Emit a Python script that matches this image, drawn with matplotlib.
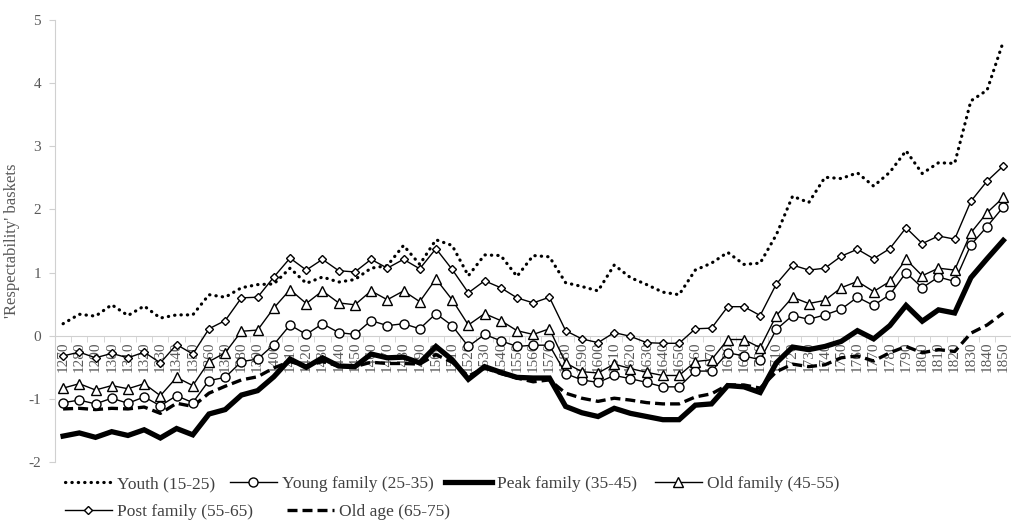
import numpy as np
import matplotlib
matplotlib.use("Agg")
import matplotlib.pyplot as plt

# decades 1270..1850
years = list(range(1270, 1851, 10))

youth = [0.19, 0.34, 0.31, 0.49, 0.32, 0.47, 0.28, 0.33, 0.33, 0.65,
         0.61, 0.76, 0.81, 0.82, 1.07, 0.83, 0.93, 0.85, 0.89, 1.07,
         1.11, 1.43, 1.13, 1.52, 1.43, 0.95, 1.28, 1.27, 0.94, 1.27,
         1.25, 0.84, 0.78, 0.71, 1.12, 0.92, 0.81, 0.69, 0.65, 1.04,
         1.15, 1.32, 1.13, 1.15, 1.60, 2.21, 2.11, 2.51, 2.49, 2.58,
         2.37, 2.59, 2.93, 2.57, 2.74, 2.73, 3.72, 3.89, 4.66]

young_family = [-1.06, -1.02, -1.08, -0.99, -1.07, -0.97, -1.11, -0.95, -1.06, -0.71,
                -0.66, -0.41, -0.37, -0.14, 0.17, 0.02, 0.19, 0.05, 0.02, 0.24,
                0.16, 0.19, 0.11, 0.35, 0.16, -0.17, 0.02, -0.08, -0.17, -0.15,
                -0.15, -0.60, -0.70, -0.74, -0.63, -0.68, -0.74, -0.81, -0.81, -0.56,
                -0.56, -0.27, -0.32, -0.38, 0.10, 0.32, 0.26, 0.33, 0.42, 0.61,
                0.48, 0.65, 1.00, 0.76, 0.93, 0.86, 1.44, 1.73, 2.04]

peak_family = [-1.59, -1.54, -1.61, -1.52, -1.58, -1.49, -1.62, -1.47, -1.57, -1.24,
               -1.17, -0.94, -0.87, -0.65, -0.37, -0.50, -0.35, -0.48, -0.49, -0.29,
               -0.35, -0.34, -0.43, -0.17, -0.38, -0.69, -0.49, -0.58, -0.66, -0.67,
               -0.67, -1.12, -1.22, -1.28, -1.15, -1.23, -1.28, -1.33, -1.33, -1.10,
               -1.08, -0.79, -0.81, -0.90, -0.43, -0.18, -0.22, -0.17, -0.09, 0.08,
               -0.05, 0.16, 0.48, 0.23, 0.41, 0.36, 0.92, 1.22, 1.51]

old_family = [-0.83, -0.76, -0.86, -0.79, -0.84, -0.76, -0.95, -0.66, -0.79, -0.41,
              -0.27, 0.07, 0.09, 0.44, 0.73, 0.51, 0.71, 0.52, 0.49, 0.71,
              0.57, 0.71, 0.54, 0.90, 0.57, 0.17, 0.35, 0.24, 0.08, 0.02,
              0.11, -0.43, -0.57, -0.59, -0.45, -0.52, -0.58, -0.63, -0.63, -0.41,
              -0.38, -0.06, -0.06, -0.19, 0.32, 0.61, 0.51, 0.56, 0.76, 0.86,
              0.70, 0.86, 1.21, 0.95, 1.07, 1.04, 1.63, 1.95, 2.19]

post_family = [-0.32, -0.26, -0.35, -0.28, -0.35, -0.26, -0.43, -0.14, -0.29, 0.11,
               0.24, 0.60, 0.61, 0.93, 1.23, 1.04, 1.21, 1.03, 1.01, 1.21,
               1.07, 1.21, 1.06, 1.38, 1.05, 0.68, 0.87, 0.76, 0.60, 0.52,
               0.61, 0.08, -0.05, -0.11, 0.05, -0.01, -0.11, -0.12, -0.12, 0.11,
               0.12, 0.46, 0.46, 0.32, 0.82, 1.12, 1.04, 1.07, 1.26, 1.37,
               1.22, 1.38, 1.71, 1.46, 1.58, 1.53, 2.13, 2.45, 2.69]

old_age = [-1.16, -1.15, -1.17, -1.15, -1.16, -1.13, -1.23, -1.07, -1.12, -0.91,
           -0.80, -0.70, -0.65, -0.51, -0.41, -0.48, -0.41, -0.48, -0.49, -0.42,
           -0.44, -0.44, -0.45, -0.30, -0.42, -0.64, -0.51, -0.60, -0.67, -0.73,
           -0.70, -0.91, -0.99, -1.04, -0.99, -1.02, -1.06, -1.08, -1.08, -0.97,
           -0.92, -0.78, -0.78, -0.83, -0.57, -0.45, -0.49, -0.46, -0.35, -0.32,
           -0.40, -0.27, -0.17, -0.27, -0.22, -0.25, 0.04, 0.17, 0.36]

plt.rcParams["font.family"] = ["Liberation Serif", "DejaVu Serif"]
plt.rcParams["axes.unicode_minus"] = False
grey = "#595959"
axis_grey = "#d0d0d0"

fig = plt.figure(figsize=(10.11, 5.22), dpi=100)
ax = fig.add_axes([0.0544, 0.115, 0.946, 0.8465])

x = np.arange(len(years))

ax.plot(x, youth, color="black", linestyle=(0, (0.1, 1.9)), linewidth=2.3,
        dash_capstyle="round", label="Youth (15-25)", zorder=3)
ax.plot(x, young_family, color="black", linewidth=1.0, marker="o", markersize=6.5,
        markerfacecolor="white", markeredgecolor="black", markeredgewidth=1.0,
        label="Young family (25-35)", zorder=4)
ax.plot(x, peak_family, color="black", linewidth=3.8, solid_joinstyle="miter",
        label="Peak family (35-45)", zorder=3)
ax.plot(x, old_family, color="black", linewidth=1.0, marker="^", markersize=6.5,
        markerfacecolor="white", markeredgecolor="black", markeredgewidth=1.0,
        label="Old family (45-55)", zorder=4)
ax.plot(x, post_family, color="black", linewidth=1.0, marker="D", markersize=4.5,
        markerfacecolor="white", markeredgecolor="black", markeredgewidth=1.0,
        label="Post family (55-65)", zorder=4)
ax.plot(x, old_age, color="black", linestyle=(0, (3.0, 1.5)), linewidth=2.4,
        label="Old age (65-75)", zorder=3)

ax.set_xlim(-0.5, len(years) - 0.5)
ax.set_ylim(-2, 5)

for side in ["top", "right"]:
    ax.spines[side].set_visible(False)
ax.spines["left"].set_color(axis_grey)
ax.spines["bottom"].set_color(axis_grey)
ax.spines["bottom"].set_position(("data", 0))
ax.spines["bottom"].set_zorder(1)

ax.set_yticks(range(-2, 6))
ax.tick_params(axis="y", colors=axis_grey, labelcolor=grey, labelsize=11, length=4, pad=6)

ax.set_xticks(x)
ax.set_xticklabels([str(y) for y in years], rotation=90, fontsize=11, color=grey)
ax.set_xticks(np.arange(-0.5, len(years), 1), minor=True)
ax.tick_params(axis="x", which="major", length=0, pad=4)
ax.tick_params(axis="x", which="minor", length=4, color=axis_grey)

ax.set_ylabel("'Respectability' baskets", fontsize=12, color=grey)
ax.yaxis.set_label_coords(-0.037, 0.5)

# legend entries placed one by one, flowing like the original
handles, labels = ax.get_legend_handles_labels()
entry_pos = [(65, 484), (230, 484), (445, 484), (655, 484), (65, 512), (287, 512)]
W, H = 1011, 522
for h, lab, (px, py) in zip(handles, labels, entry_pos):
    leg = fig.legend([h], [lab], loc="center left", bbox_to_anchor=(px / W, 1 - py / H),
                     frameon=False, fontsize=12.5, handlelength=2.7, handletextpad=0.3,
                     borderaxespad=0, borderpad=0)
    for t in leg.get_texts():
        t.set_color("#404040")

fig.savefig("out.png", dpi=100)
